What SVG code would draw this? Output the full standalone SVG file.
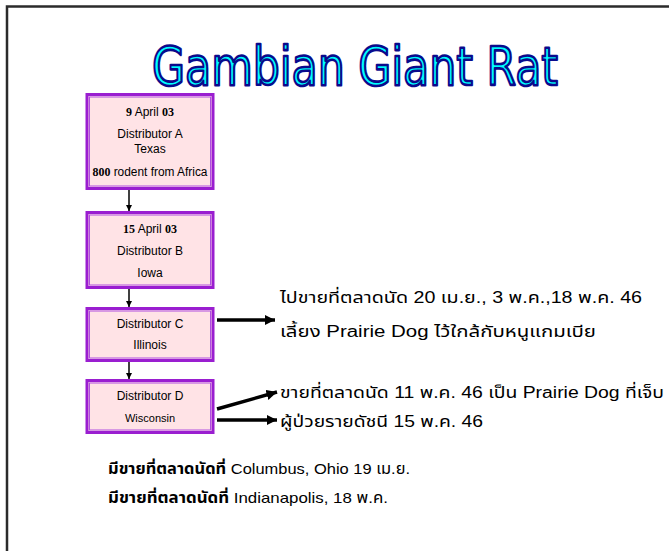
<svg xmlns="http://www.w3.org/2000/svg" width="669" height="551" viewBox="0 0 669 551">
<style>
.frame{fill:none;stroke:#2b2b2b;stroke-width:2.5}
.box{fill:#FFE3E6;stroke:#9A1ED0;stroke-width:3}
.boxin{fill:none;stroke:#B04FE0;stroke-width:1}
.t{font-family:"Liberation Sans",Arial,sans-serif;font-size:12px;fill:#000;text-anchor:middle}
.n{font-family:"Liberation Serif","Times New Roman",serif;font-weight:bold}
.r{font-family:"Liberation Sans","Noto Sans Thai","Noto Sans",sans-serif;font-size:16px;fill:#000}
.b{font-weight:bold}
.title{font-family:"DejaVu Sans","Open Sans",sans-serif;font-size:54px;fill:#00FFFF;stroke:#0A0A8C;stroke-width:2.6;stroke-linejoin:round}
.vl{stroke:#000;stroke-width:1.5;fill:none}
.hl{stroke:#000;stroke-width:3.5;fill:none}
</style>
<defs>
<marker id="ah" viewBox="0 0 10 10" refX="10" refY="5" markerWidth="6" markerHeight="6" markerUnits="userSpaceOnUse" orient="auto"><path d="M0,0 L10,5 L0,10 z" fill="#000"/></marker>
<marker id="ahb" viewBox="0 0 10 10" refX="10" refY="5" markerWidth="3" markerHeight="3" orient="auto"><path d="M0,0 L10,5 L0,10 z" fill="#000"/></marker>
</defs>
<rect width="669" height="551" fill="#fff"/>
<path class="frame" d="M7,551 L7,6.5 L669,6.5"/>
<text class="title" x="152" y="85" textLength="406" lengthAdjust="spacingAndGlyphs">Gambian Giant Rat</text>

<g id="boxA">
<rect class="box" x="87" y="94.5" width="126" height="94"/>
<rect class="boxin" x="89.5" y="97" width="121" height="89"/>
<text class="t" x="150" y="116"><tspan class="n">9</tspan> April <tspan class="n">03</tspan></text>
<text class="t" x="150" y="138">Distributor A</text>
<text class="t" x="150" y="153">Texas</text>
<text class="t" x="150" y="176" textLength="115" lengthAdjust="spacingAndGlyphs"><tspan class="n">800</tspan> rodent from Africa</text>
</g>
<g id="boxB">
<rect class="box" x="87" y="212.5" width="126" height="75"/>
<rect class="boxin" x="89.5" y="215" width="121" height="70"/>
<text class="t" x="150" y="233"><tspan class="n">15</tspan> April <tspan class="n">03</tspan></text>
<text class="t" x="150" y="255">Distributor B</text>
<text class="t" x="150" y="277">Iowa</text>
</g>
<g id="boxC">
<rect class="box" x="87" y="308.5" width="126" height="52"/>
<rect class="boxin" x="89.5" y="311" width="121" height="47"/>
<text class="t" x="150" y="328">Distributor C</text>
<text class="t" x="150" y="349">Illinois</text>
</g>
<g id="boxD">
<rect class="box" x="87" y="380.5" width="126" height="52"/>
<rect class="boxin" x="89.5" y="383" width="121" height="47"/>
<text class="t" x="150" y="400">Distributor D</text>
<text class="t" x="150" y="422" style="font-size:11px">Wisconsin</text>
</g>

<g id="connectors">
<line class="vl" x1="129" y1="190" x2="129" y2="211" marker-end="url(#ah)"/>
<line class="vl" x1="129" y1="289" x2="129" y2="307" marker-end="url(#ah)"/>
<line class="vl" x1="129" y1="362" x2="129" y2="379" marker-end="url(#ah)"/>
<line class="hl" x1="217" y1="320" x2="275" y2="320" marker-end="url(#ahb)"/>
<line class="hl" x1="217" y1="409" x2="277" y2="392" marker-end="url(#ahb)"/>
<line class="hl" x1="217" y1="420" x2="277" y2="420" marker-end="url(#ahb)"/>
</g>

<g id="notes">
<text class="r" x="280" y="303" textLength="362" lengthAdjust="spacingAndGlyphs">ไปขายที่ตลาดนัด 20 เม.ย., 3 พ.ค.,18 พ.ค. 46</text>
<text class="r" x="280" y="337" textLength="316" lengthAdjust="spacingAndGlyphs">เลี้ยง Prairie Dog ไว้ใกล้กับหนูแกมเบีย</text>
<text class="r" x="280" y="398" textLength="384" lengthAdjust="spacingAndGlyphs">ขายที่ตลาดนัด 11 พ.ค. 46 เป็น Prairie Dog ที่เจ็บ</text>
<text class="r" x="280" y="427" textLength="203" lengthAdjust="spacingAndGlyphs">ผู้ป่วยรายดัชนี 15 พ.ค. 46</text>
<text class="r" x="108" y="474" style="font-size:15px" textLength="302" lengthAdjust="spacingAndGlyphs"><tspan class="b">มีขายที่ตลาดนัดที่</tspan> Columbus, Ohio 19 เม.ย.</text>
<text class="r" x="108" y="503" style="font-size:15px" textLength="280" lengthAdjust="spacingAndGlyphs"><tspan class="b">มีขายที่ตลาดนัดที่</tspan> Indianapolis, 18 พ.ค.</text>
</g>
</svg>
